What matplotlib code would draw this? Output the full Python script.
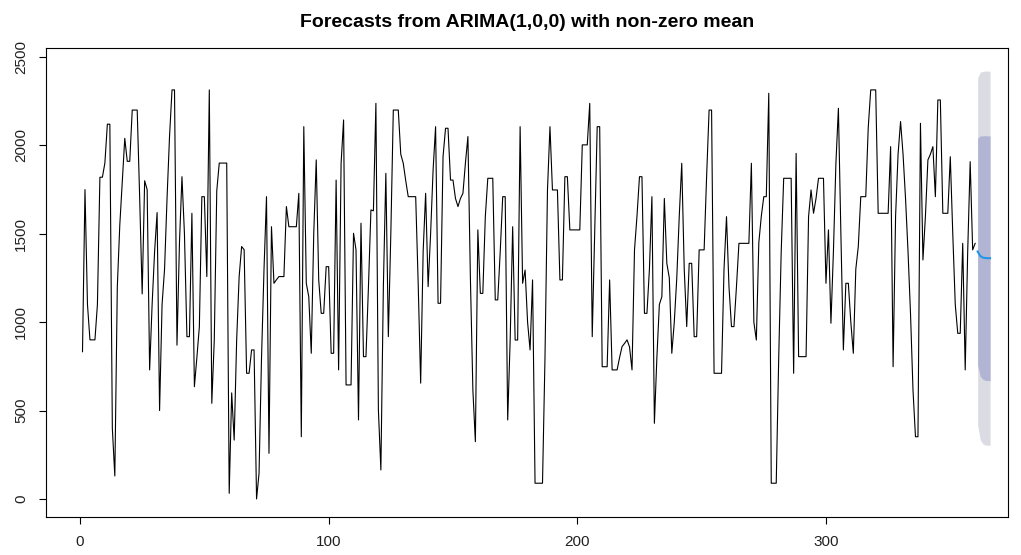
import matplotlib
matplotlib.use("Agg")
from matplotlib import pyplot as plt
import numpy as np

obs = [
    833, 1750, 1100, 900, 900, 900, 1100, 1820, 1820, 1900,
    2120, 2120, 400, 130, 1200, 1550, 1800, 2040, 1910, 1910,
    2200, 2200, 2200, 1700, 1160, 1800, 1750, 730, 1100, 1400,
    1620, 500, 1100, 1300, 1700, 2050, 2314, 2314, 870, 1450,
    1823, 1500, 918, 918, 1616, 635, 800, 975, 1710, 1710,
    1258, 2314, 541, 900, 1743, 1900, 1900, 1900, 1900, 32,
    600, 333, 900, 1258, 1428, 1410, 711, 711, 843, 843,
    0, 145, 800, 1300, 1710, 258, 1540, 1220, 1240, 1258,
    1258, 1258, 1654, 1540, 1540, 1540, 1540, 1729, 352, 2106,
    1220, 1144, 824, 1500, 1918, 1239, 1050, 1050, 1314, 1314,
    824, 824, 1804, 730, 1899, 2144, 645, 645, 645, 1503,
    1409, 447, 1560, 805, 805, 1200, 1635, 1630, 2238, 503,
    164, 1201, 1842, 918, 1500, 2200, 2200, 2200, 1950, 1899,
    1800, 1710, 1710, 1710, 1710, 1220, 655, 1400, 1729, 1201,
    1500, 1861, 2106, 1107, 1107, 1936, 2097, 2097, 1804, 1804,
    1700, 1654, 1700, 1729, 1900, 2050, 1250, 616, 324, 1522,
    1163, 1163, 1597, 1814, 1814, 1814, 1126, 1126, 1400, 1710,
    1710, 447, 900, 1540, 899, 899, 2106, 1220, 1295, 1000,
    843, 1239, 89, 89, 89, 89, 800, 1748, 2106, 1748,
    1748, 1748, 1239, 1239, 1823, 1823, 1522, 1522, 1522, 1522,
    1522, 2003, 2003, 2003, 2238, 918, 1500, 2106, 2106, 748,
    748, 748, 1239, 730, 730, 730, 800, 862, 880, 900,
    860, 730, 1409, 1600, 1823, 1823, 1050, 1050, 1300, 1710,
    428, 800, 1100, 1144, 1700, 1333, 1250, 824, 1000, 1250,
    1600, 1899, 1300, 975, 1333, 1333, 918, 918, 1409, 1409,
    1409, 1823, 2200, 2200, 711, 711, 711, 711, 1300, 1597,
    1200, 975, 975, 1200, 1446, 1446, 1446, 1446, 1446, 1899,
    1000, 899, 1450, 1600, 1710, 1710, 2295, 89, 89, 89,
    800, 1400, 1814, 1814, 1814, 1814, 711, 1955, 805, 805,
    805, 805, 1597, 1748, 1616, 1700, 1814, 1814, 1814, 1220,
    1522, 994, 1400, 1900, 2210, 1500, 843, 1220, 1220, 1000,
    824, 1300, 1428, 1710, 1710, 1710, 2100, 2314, 2314, 2314,
    1616, 1616, 1616, 1616, 1616, 1993, 748, 1600, 1950, 2135,
    1950, 1700, 1400, 1050, 616, 352, 352, 2125, 1352, 1600,
    1918, 1950, 1993, 1710, 2257, 2257, 1616, 1616, 1616, 1936,
    1500, 1100, 937, 937, 1446, 730, 1400, 1908, 1409, 1446,
]

# forecast (6 steps) with 80% and 95% intervals
fc_mean = [1400, 1375, 1366, 1363, 1362, 1362]
lo80 = [759, 696, 678, 671, 670, 670]
hi80 = [2041, 2054, 2054, 2055, 2054, 2054]
lo95 = [420, 336, 314, 305, 304, 304]
hi95 = [2380, 2414, 2418, 2421, 2420, 2420]

t_obs = np.arange(1, len(obs) + 1)
t_fc = np.arange(len(obs) + 1, len(obs) + 1 + len(fc_mean))

plt.rcParams["font.family"] = ["Liberation Sans", "DejaVu Sans"]

fig = plt.figure(figsize=(10.21, 5.55), dpi=100)
ax = fig.add_axes([0.045, 0.0685, 0.942, 0.845])

ax.fill_between(t_fc, lo95, hi95, color="#DBDBE3", lw=0)
ax.fill_between(t_fc, lo80, hi80, color="#B1B5D3", lw=0)
ax.plot(t_obs, obs, color="black", lw=0.8)
ax.plot(t_fc, fc_mean, color="#2297E6", lw=1.5)

ax.set_xlim(-13.7, 373.1)
ax.set_ylim(-102, 2551)
ax.set_xticks([0, 100, 200, 300])
ax.set_yticks([0, 500, 1000, 1500, 2000, 2500])
ax.tick_params(direction="out", length=5, width=0.8, labelsize=11, pad=8,
               labelcolor="#222222")
for lab in ax.get_yticklabels():
    lab.set_rotation(90)
    lab.set_va("center")
for s in ax.spines.values():
    s.set_linewidth(0.8)

ax.set_title("Forecasts from ARIMA(1,0,0) with non-zero mean",
             fontsize=14, fontweight="bold", pad=15)

fig.savefig("out.png", dpi=100)
